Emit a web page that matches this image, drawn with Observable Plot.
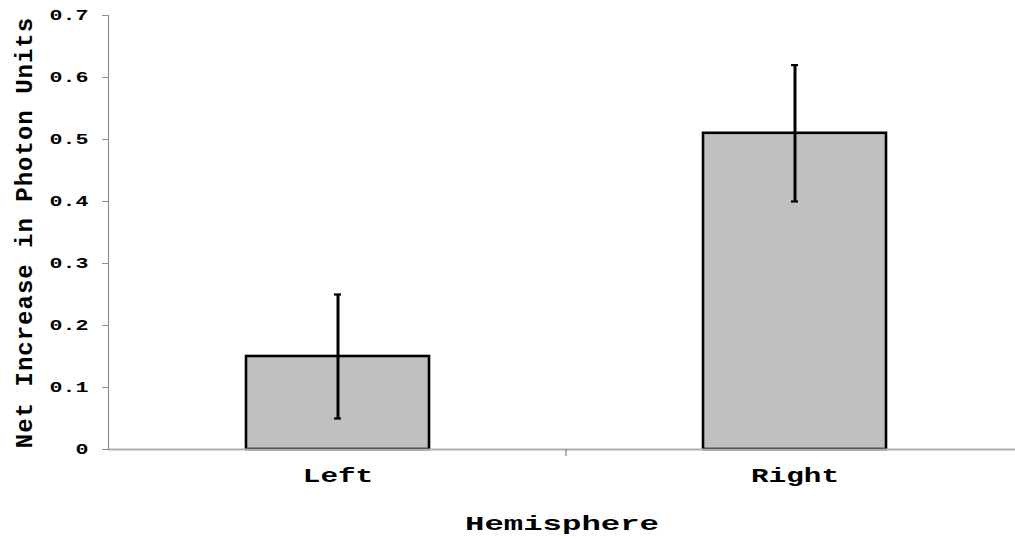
<!DOCTYPE html>
<html>
<head>
<meta charset="utf-8">
<script src="https://cdn.jsdelivr.net/npm/d3@7"></script>
<script src="https://cdn.jsdelivr.net/npm/@observablehq/plot@0.6"></script>
<style>
  html, body { margin: 0; padding: 0; background: #fff; }
  #chart svg { display: block; }
  #chart svg text { font-family: "Courier New", "Nimbus Mono PS", "FreeMono", "Liberation Mono", monospace !important; font-weight: bold; }
  #chart [aria-label="y-axis tick label"] { font-size: 14px; }
  #chart [aria-label="x-axis tick label"] { font-size: 20px; }
  #chart [aria-label="y-axis label"] { font-size: 24px; letter-spacing: 1px; }
  #chart [aria-label="x-axis label"] { font-size: 21px; }
</style>
</head>
<body>
<div id="chart"></div>
<script>
// ---- data ----
const categories = ["Left", "Right"];
const means = [0.15, 0.51];
const errLow = [0.05, 0.40];
const errHigh = [0.25, 0.62];
const yTicks = [0, 0.1, 0.2, 0.3, 0.4, 0.5, 0.6, 0.7];

const rows = categories.map((c, i) => ({cat: c, mean: means[i], lo: errLow[i], hi: errHigh[i]}));

// ---- layout ----
const W = 1015, H = 539;
const xRange = [108, 1023];
const padIn = 0.6, padOut = 0.3;
const step = (xRange[1] - xRange[0]) / (categories.length - padIn + 2 * padOut);
const bandwidth = step * (1 - padIn);
const capW = 7;
const capInset = (bandwidth - capW) / 2;

const chart = Plot.plot({
  width: W,
  height: H,
  marginLeft: 108,
  marginRight: 0,
  marginTop: 15,
  marginBottom: 90,
  style: {background: "#fff", color: "#000", overflow: "visible", fontWeight: "bold"},
  x: {domain: categories, range: xRange, paddingInner: padIn, paddingOuter: padOut},
  y: {domain: [0, 0.7]},
  marks: [
    Plot.barY(rows, {x: "cat", y: "mean", fill: "#c0c0c0", stroke: "#000", strokeWidth: 2.6}),
    Plot.ruleX(rows, {x: "cat", y1: "lo", y2: "hi", stroke: "#000", strokeWidth: 3}),
    Plot.tickY(rows, {x: "cat", y: "lo", stroke: "#000", strokeWidth: 2.2, insetLeft: capInset, insetRight: capInset}),
    Plot.tickY(rows, {x: "cat", y: "hi", stroke: "#000", strokeWidth: 2.2, insetLeft: capInset, insetRight: capInset}),
    Plot.ruleY([0], {stroke: "#b0b0b0", strokeWidth: 2}),
    Plot.frame({anchor: "left", stroke: "#909090", strokeWidth: 1.2}),
    Plot.axisY({
      ticks: yTicks,
      tickFormat: d => d === 0 ? "0" : d.toFixed(1),
      tickSize: 6,
      tickPadding: 14,
      stroke: "#909090",
      fill: "#000",
      label: "Net Increase in Photon Units",
      labelAnchor: "center",
      labelArrow: "none",
      labelOffset: 94
    }),
    Plot.axisX({
      tickSize: 0,
      tickPadding: 18,
      fill: "#000",
      label: "Hemisphere",
      labelAnchor: "center",
      labelArrow: "none",
      labelOffset: 80
    })
  ]
});

// separator tick between categories, below the x axis
const xs = chart.scale("x");
const ys = chart.scale("y");
const svg = d3.select(chart);
const y0 = ys.apply(0);
categories.slice(1).forEach(c => {
  const xm = xs.apply(c) - (xs.step - xs.bandwidth) / 2;
  svg.append("line")
    .attr("x1", xm).attr("x2", xm)
    .attr("y1", y0).attr("y2", y0 + 7)
    .attr("stroke", "#606060").attr("stroke-width", 1);
});

document.getElementById("chart").appendChild(chart);

// widen horizontal texts (the reference glyphs are horizontally stretched)
const advance = {"y-axis tick label": 13, "x-axis tick label": 17.6, "x-axis label": 19.4};
Object.entries(advance).forEach(([label, adv]) => {
  svg.selectAll(`[aria-label="${label}"] text`).each(function() {
    const n = this.textContent.length;
    this.setAttribute("textLength", n * adv);
    this.setAttribute("lengthAdjust", "spacingAndGlyphs");
  });
});
</script>
</body>
</html>
